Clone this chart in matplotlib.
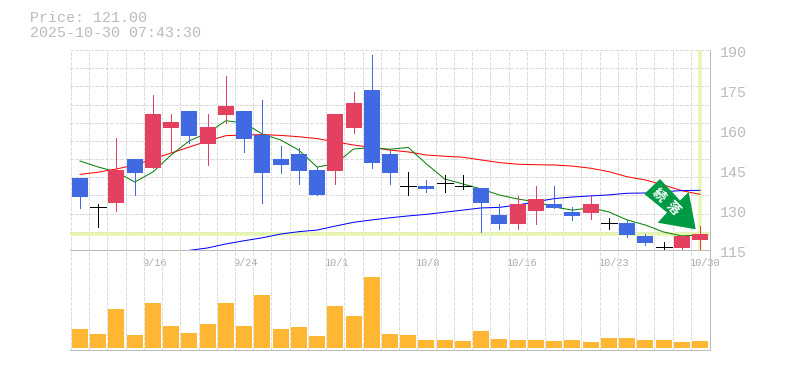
import matplotlib
matplotlib.use('Agg')
import matplotlib.pyplot as plt
import numpy as np
from matplotlib.patches import Polygon
from matplotlib.transforms import Affine2D

###candle data, one value per trading day
opens = [143.1,132.1,133.9,150.25,146.9,161.9,168.25,155.9,166.75,168.25,159.25,150.25,152.1,146.1,145.9,162,176.1,152.1,140.1,140.1,141.25,140.1,139.4,129.25,126,130.9,133.4,130.4,130,126.25,126.25,121.4,117.25,116.9,119.9]
closes = [136.1,132.1,146.1,145.1,167.1,164.1,159,162.25,170.1,157.9,145.1,148,145.9,136.75,167.1,171.25,148.9,145.1,140.1,139.1,141.25,140.1,133.9,126,133.4,135.25,131.9,128.9,133.4,126.25,121.75,118.75,117.25,121.4,122.1]
highs = [143.1,133.4,158.1,150.25,174.25,167.1,168.25,167.1,181.4,168.25,172.4,155.1,154.3,147.4,167.1,175.4,189.25,153.4,145.4,142.4,144.25,144.25,139.4,133.4,136.4,140.1,140.1,132.25,136.4,128.1,127.4,122.1,119.1,121.4,125.1]
lows = [131.9,124.9,130.9,136.75,146.9,152.9,156.1,148,163.9,152.9,133.9,145.1,141,136.75,141,160.1,147,141,136.9,138,138,139.1,123,124.1,124.1,126,131.9,127.4,127.75,124.1,121,118,116.1,115.75,115.75]
volume = [19,14,39,13,45,22,15,24,45,22,53,19,21,12,42,32,71,14,13,8,8,7,17,9,8,8,7,8,6,10,10,8,8,6,7]
ma_short = [149.5,147.25,145.4,141.6,145.4,151.75,157.1,160,164.6,163.75,159.6,157.4,153.6,147.25,148.4,154,154.5,153.9,154.6,148.4,142.75,140.9,139,136.75,135.25,134.2,132.25,131.1,131.9,130.4,127.4,125.5,122.9,121.4,121.75]
ma_mid = [144.5,145.3,146.5,148,150.25,152.5,154.75,157,159,159.25,159.4,159.1,158.6,157.9,156.7,155.5,154.6,153.6,152.9,151.75,151.3,150.9,149.9,148.9,148.3,148.1,148,147.6,146.8,145.5,143.6,142.4,140.5,138.4,137]
ma_long = [116,116.9,118.4,119.6,120.7,122.1,123,123.6,125.1,126.5,127.4,128.2,128.9,129.5,130.3,131.1,131.9,132.1,133,134.2,135.4,136,136.4,136.8,137.4,137.5,138,138.4,138.5]
date_idx = [4,9,14,19,24,29,34]
date_labels = ['9/16','9/24','10/1','10/8','10/16','10/23','10/30']
price_ticks = [190,175,160,145,130,115]
price_now = 122.1

W, H = 785, 370
RED = '#e44160'
BLUE = '#4169e1'
GREY = '#bbbbbb'
GRID = '#dddddd'
YELLOW = '#e6f5b0'
MONO = 'Liberation Mono'
PX = 0.72  # one pixel in points at dpi 100
dash = (0, (3, 2))

fig = plt.figure(figsize=(W / 100, H / 100), dpi=100)
ax = fig.add_axes([70 / W, 1 - 250 / H, 640 / W, 200 / H])
vax = fig.add_axes([70 / W, 1 - 350 / H, 640 / W, 100 / H])

x = np.arange(len(opens))
xlim = (-0.548, 34.55)
bw = 16 / 18.235

for a in (ax, vax):
    a.set_xlim(xlim)
    a.set_xticks([])
    a.set_yticks([])
    a.patch.set_alpha(0)
    for s in a.spines.values():
        s.set_visible(False)
    ###dashed vertical lines, one between each day
    a.vlines(x - 0.5, 0, 1, transform=a.get_xaxis_transform(), color=GRID, lw=PX,
             linestyle=dash, antialiased=False, zorder=1)
    a.axvline(xlim[1], color=GREY, lw=PX, antialiased=False, zorder=6, clip_on=False)

ax.set_ylim(116.125, 191.125)
ax.hlines(np.linspace(116.125, 191.125, 12)[1:], 0, 1, transform=ax.get_yaxis_transform(), color=GRID, lw=PX,
          linestyle=dash, antialiased=False, zorder=1)
ax.axhline(116.125, color=GREY, lw=PX, antialiased=False, zorder=6, clip_on=False)

###current price cross
ax.axhline(price_now, color=YELLOW, lw=PX * 3.5, zorder=2)
ax.axvline(x[-1], color=YELLOW, lw=PX * 3.5, zorder=2)

###moving averages
ax.plot(x, ma_mid, color='#ff0000', lw=PX, zorder=3)
ax.plot(x[-len(ma_long):], ma_long, color='#0000ff', lw=PX, zorder=3)
ax.plot(x, ma_short, color='#008000', lw=PX, zorder=3)

###candles
for i in x:
    o, c = opens[i], closes[i]
    col = RED if c > o else BLUE if c < o else 'black'
    ax.vlines(i, lows[i], highs[i], color=col, lw=PX, antialiased=False, zorder=4)
    if c == o:
        ax.hlines(c, i - bw / 2, i + bw / 2, color=col, lw=PX, antialiased=False, zorder=4)
    else:
        ax.bar(i, abs(c - o), bottom=min(o, c), width=bw, color=col, linewidth=0, zorder=5)

###volume
vax.set_ylim(-2, 98)
vax.bar(x, volume, width=bw, color='#ffb733', linewidth=0, zorder=3)
vax.axhline(-2, color=GREY, lw=PX, antialiased=False, zorder=6, clip_on=False)

###tick labels
for p in price_ticks:
    ax.annotate(str(p), (1, p), xycoords=ax.get_yaxis_transform(), xytext=(7.2, 0),
                textcoords='offset points', va='center', ha='left', family=MONO,
                fontsize=10.8, color=GREY, annotation_clip=False)
for i, d in zip(date_idx, date_labels):
    ax.annotate(d, (i, 0), xycoords=ax.get_xaxis_transform(), xytext=(-7.9, -9.2),
                textcoords='offset points', va='center', ha='left', family=MONO,
                fontsize=7.4, color='#aaaaaa', annotation_clip=False, zorder=7)

fig.text(30 / W, 1 - 18 / H, 'Price: 121.00', family=MONO, fontsize=10.8, color=GREY, va='center')
fig.text(30 / W, 1 - 33 / H, '2025-10-30 07:43:30', family=MONO, fontsize=10.8, color=GREY, va='center')

###signal arrow, placed in pixels from the top left corner
to_px = Affine2D().scale(1, -1).translate(0, H)
arrow = [(644.3, 194), (660, 179), (680, 200.5), (688.7, 192), (695.7, 229.3), (657.7, 222.7), (667, 212.5)]
fig.add_artist(Polygon(arrow, closed=True, facecolor='#009944', edgecolor='none', transform=to_px, zorder=20))
for ch, (tx, ty) in zip('続落', [(659.5, 195.5), (672.5, 208.5)]):
    fig.text(tx / W, 1 - ty / H, ch, family=['Noto Sans CJK JP', 'DejaVu Sans'], fontsize=9.5,
             fontweight='bold', color='white', rotation=-45, rotation_mode='anchor',
             ha='center', va='center', zorder=21)

fig.savefig('out.png', dpi=100)
